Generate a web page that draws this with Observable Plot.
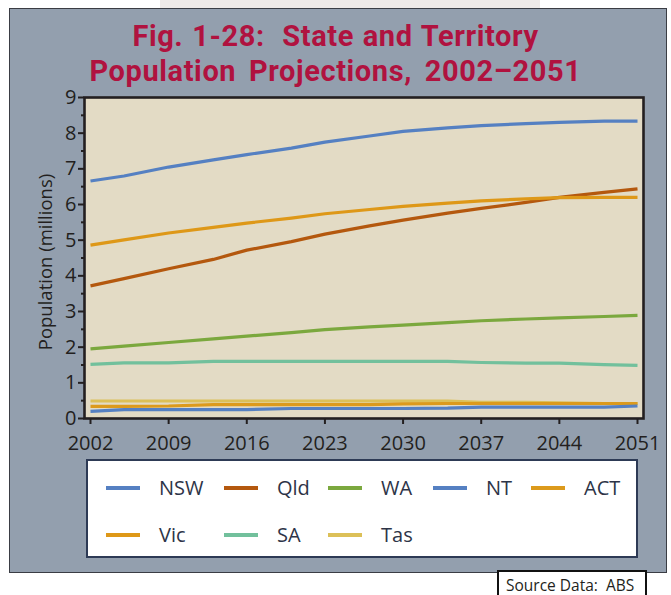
<!DOCTYPE html>
<html>
<head>
<meta charset="utf-8">
<script src="https://cdn.jsdelivr.net/npm/d3@7"></script>
<script src="https://cdn.jsdelivr.net/npm/@observablehq/plot@0.6"></script>
<style>
  html, body { margin: 0; padding: 0; background: #ffffff; }
  #page { position: relative; width: 671px; height: 595px; overflow: hidden; font-family: "Open Sans", "Noto Sans", sans-serif; }
  #band { position: absolute; left: 160px; top: 0; width: 380px; height: 9px; background: #eeeae8; }
  #panel { position: absolute; left: 9px; top: 8px; width: 656px; height: 563px; background: #939fae; border: 1.5px solid #3a3d44; }
  .title { position: absolute; left: 0; width: 671px; text-align: center; color: #b0123f; font-family: Roboto, "Open Sans", sans-serif; font-weight: 700; font-size: 29px; line-height: 30px; height: 30px; white-space: nowrap; letter-spacing: 0.6px; }
  #t1 { top: 21px; word-spacing: 1px; }
  #t2 { top: 56px; word-spacing: 5px; }
  #chart { position: absolute; left: 0; top: 80px; }
  #ylabel { position: absolute; left: 44px; top: 262px; transform: translate(-50%, -50%) rotate(-90deg); white-space: nowrap; font-size: 18.5px; color: #231f20; }
  #legend { position: absolute; left: 86px; top: 459px; width: 548px; height: 95px; background: #ffffff; border: 2px solid #2d3a55; }
  .item { position: absolute; height: 24px; }
  .sw { position: absolute; left: 0; top: 10px; width: 34px; height: 4px; }
  .lab { position: absolute; left: 53px; top: 0; font-size: 20px; line-height: 24px; color: #2d3447; white-space: nowrap; }
  #source { position: absolute; left: 497px; top: 570px; width: 146px; height: 30px; background: #fff; border: 2px solid #111; font-size: 15.5px; color: #231f20; }
  #source span { position: absolute; left: 7px; top: 2px; white-space: pre; }
</style>
</head>
<body>
<div id="page">
  <div id="band"></div>
  <div id="panel"></div>
  <div class="title" id="t1">Fig. 1-28:&nbsp; State and Territory</div>
  <div class="title" id="t2">Population Projections, 2002–2051</div>
  <div id="chart"></div>
  <div id="ylabel">Population (millions)</div>
  <div id="legend"></div>
  <div id="source"><span>Source Data:  ABS</span></div>
</div>
<script>
// ---- data ----
const years = [2002, 2005, 2009, 2013, 2016, 2020, 2023, 2027, 2030, 2034, 2037, 2041, 2044, 2048, 2051];
const nsw = [6.66, 6.80, 7.05, 7.25, 7.40, 7.58, 7.75, 7.92, 8.05, 8.15, 8.21, 8.27, 8.30, 8.34, 8.34];
const qld = [3.72, 3.92, 4.20, 4.46, 4.72, 4.96, 5.17, 5.40, 5.56, 5.76, 5.89, 6.06, 6.20, 6.34, 6.44];
const wa  = [1.95, 2.03, 2.13, 2.23, 2.31, 2.41, 2.49, 2.57, 2.62, 2.69, 2.74, 2.79, 2.82, 2.86, 2.89];
const nt  = [0.20, 0.25, 0.25, 0.25, 0.25, 0.28, 0.28, 0.28, 0.28, 0.29, 0.32, 0.32, 0.32, 0.32, 0.35];
const act = [0.34, 0.34, 0.35, 0.39, 0.39, 0.39, 0.39, 0.39, 0.41, 0.42, 0.42, 0.42, 0.42, 0.42, 0.42];
const vic = [4.86, 5.01, 5.20, 5.36, 5.48, 5.62, 5.74, 5.86, 5.95, 6.04, 6.10, 6.16, 6.19, 6.20, 6.20];
const sa  = [1.52, 1.56, 1.56, 1.60, 1.60, 1.60, 1.60, 1.60, 1.60, 1.60, 1.57, 1.55, 1.55, 1.51, 1.49];
const tas = [0.49, 0.49, 0.49, 0.49, 0.49, 0.49, 0.49, 0.49, 0.49, 0.49, 0.45, 0.45, 0.44, 0.42, 0.42];

const seriesNames = ["NSW", "Qld", "WA", "NT", "ACT", "Vic", "SA", "Tas"];
const seriesValues = [nsw, qld, wa, nt, act, vic, sa, tas];
const seriesColors = ["#5580c2", "#b4580e", "#7ba83e", "#5580c2", "#dc9a1c", "#de9818", "#72c09c", "#dcc058"];
const drawOrder = ["Tas", "ACT", "NT", "SA", "WA", "Qld", "Vic", "NSW"];

const xTicks = [2002, 2009, 2016, 2023, 2030, 2037, 2044, 2051];
const yTicks = [0, 1, 2, 3, 4, 5, 6, 7, 8, 9];
const yMinorTicks = [0.5, 1.5, 2.5, 3.5, 4.5, 5.5, 6.5, 7.5, 8.5];

// build tidy table
const rows = [];
for (const name of drawOrder) {
  const i = seriesNames.indexOf(name);
  years.forEach((yr, j) => rows.push({state: name, year: yr, value: seriesValues[i][j]}));
}

const lineMarks = drawOrder.map(name =>
  Plot.line(rows.filter(r => r.state === name), {x: "year", y: "value", stroke: seriesColors[seriesNames.indexOf(name)], strokeWidth: 3.2, strokeLinejoin: "round", strokeLinecap: "butt"})
);

const chart = Plot.plot({
  width: 671,
  height: 378,
  marginLeft: 84,
  marginRight: 28,
  marginTop: 17,
  marginBottom: 40,
  style: {background: "transparent", fontFamily: "'Open Sans', 'Noto Sans', sans-serif", fontSize: "20px", color: "#231f20", overflow: "visible"},
  x: {domain: [2002, 2051], insetLeft: 6, insetRight: 6},
  y: {domain: [0, 9]},
  marks: [
    Plot.frame({fill: "#e3dbc5"}),
    ...lineMarks,
    Plot.frame({stroke: "#231f20", strokeWidth: 2.6}),
    Plot.axisX({ticks: xTicks, tickFormat: d => String(d), tickSize: 6, tickPadding: 11, strokeWidth: 2, stroke: "#231f20", label: null}),
    Plot.axisY({ticks: yTicks, tickSize: 6, tickPadding: 2, strokeWidth: 2, stroke: "#231f20", label: null}),
    Plot.axisY({ticks: yMinorTicks, tickSize: 3, text: null, strokeWidth: 2, stroke: "#231f20", label: null})
  ]
});
document.getElementById("chart").appendChild(chart);

// legend
const legend = document.getElementById("legend");
const colX = [18, 136, 240, 345, 443];
const rowY = [15, 62];
seriesNames.forEach((name, i) => {
  const r = Math.floor(i / 5), c = i % 5;
  const it = document.createElement("div");
  it.className = "item";
  it.style.left = colX[c] + "px";
  it.style.top = rowY[r] + "px";
  const sw = document.createElement("div");
  sw.className = "sw";
  sw.style.background = seriesColors[i];
  const lb = document.createElement("div");
  lb.className = "lab";
  lb.textContent = name;
  it.appendChild(sw); it.appendChild(lb);
  legend.appendChild(it);
});
</script>
</body>
</html>
